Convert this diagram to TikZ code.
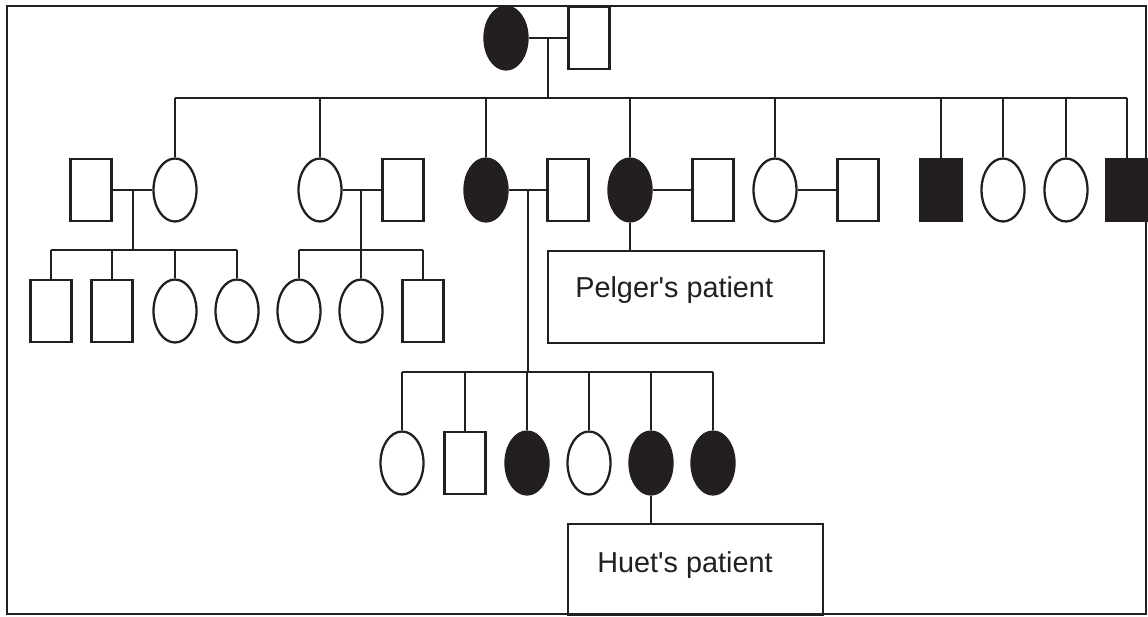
\documentclass[tikz,border=0pt]{standalone}
\usepackage{fontspec}
\setmainfont{Liberation Sans}
\usetikzlibrary{shapes.geometric,calc}
\definecolor{pedink}{RGB}{35,31,32}

\begin{document}
\begin{tikzpicture}[x=0.02cm, y=-0.02cm,
  fem/.style={draw=pedink, ellipse, line width=1.3pt, inner sep=0pt, minimum width=0.86cm, minimum height=1.26cm},
  femaff/.style={fem, fill=pedink},
  male/.style={draw=pedink, rectangle, line width=1.3pt, inner sep=0pt, minimum width=0.82cm, minimum height=1.24cm},
  maleaff/.style={male, fill=pedink},
  patbox/.style={draw=pedink, rectangle, line width=1.3pt, inner sep=0pt, anchor=north west},
  pline/.style={draw=pedink, line width=1.3pt},
  lbl/.style={anchor=base west, inner sep=0pt, font=\fontsize{16.4}{18}\selectfont, text=pedink}]
\useasboundingbox (0,0) rectangle (1148,616);

% Generation I
\node[femaff] (f0) at (506,38) {};
\node[male] (m0) at (589,38) {};
\draw[pline] (f0.east) -- (m0.west);
\coordinate (u0) at ($(f0.east)!.5!(m0.west)$);
\coordinate (s0) at (u0 |- 0,98);
\draw[pline] (u0) -- (s0);

% Generation II
\node[male] (m1) at (91,190) {};
\node[fem] (f1) at (175,190) {};
\node[fem] (f2) at (320,190) {};
\node[male] (m2) at (403,190) {};
\node[femaff] (f3) at (486,190) {};
\node[male] (m3) at (568,190) {};
\node[femaff] (f4) at (630,190) {};
\node[male] (m4) at (713,190) {};
\node[fem] (f5) at (775,190) {};
\node[male] (m5) at (858,190) {};
\node[maleaff] (m6) at (941,190) {};
\node[fem] (f6) at (1003,190) {};
\node[fem] (f7) at (1066,190) {};
\node[maleaff] (m7) at (1127,190) {};

% sibship of generation II
\draw[pline] (f1.north |- s0) -- (m7.north |- s0);
\foreach \k in {f1,f2,f3,f4,f5,m6,f6,f7,m7}
  \draw[pline] (\k.north) -- (\k.north |- s0);

% marriages
\draw[pline] (m1.east) -- (f1.west);
\draw[pline] (f2.east) -- (m2.west);
\draw[pline] (f3.east) -- (m3.west);
\draw[pline] (f4.east) -- (m4.west);
\draw[pline] (f5.east) -- (m5.west);
\coordinate (u1) at (133,190);
\coordinate (u2) at (361,190);
\coordinate (u3) at (528,190);
\coordinate (s1) at (u1 |- 0,250);
\coordinate (s2) at (u2 |- 0,250);
\coordinate (s3) at (u3 |- 0,372);
\draw[pline] (u1) -- (s1);
\draw[pline] (u2) -- (s2);
\draw[pline] (u3) -- (s3);

% Generation III, first two families
\node[male] (c1) at (51,311) {};
\node[male] (c2) at (112,311) {};
\node[fem] (c3) at (175,311) {};
\node[fem] (c4) at (237,311) {};
\node[fem] (c5) at (299,311) {};
\node[fem] (c6) at (361,311) {};
\node[male] (c7) at (423,311) {};
\draw[pline] (c1.north |- s1) -- (c4.north |- s1);
\draw[pline] (c5.north |- s2) -- (c7.north |- s2);
\foreach \k in {c1,c2,c3,c4}
  \draw[pline] (\k.north) -- (\k.north |- s1);
\foreach \k in {c5,c6,c7}
  \draw[pline] (\k.north) -- (\k.north |- s2);

% Pelger's patient
\node[patbox, minimum width=5.52cm, minimum height=1.84cm] (pelger) at (547,250) {};
\node[lbl] (pelgertxt) at (575,297) {Pelger\textquotesingle s patient};
\draw[pline] (f4.south) -- (f4.south |- pelger.north);

% Generation III, third family
\node[fem] (d1) at (402,463) {};
\node[male] (d2) at (465,463) {};
\node[femaff] (d3) at (527,463) {};
\node[fem] (d4) at (589,463) {};
\node[femaff] (d5) at (651,463) {};
\node[femaff] (d6) at (713,463) {};
\draw[pline] (d1.north |- s3) -- (d6.north |- s3);
\foreach \k in {d1,d2,d3,d4,d5,d6}
  \draw[pline] (\k.north) -- (\k.north |- s3);

% Huet's patient
\node[patbox, minimum width=5.1cm, minimum height=1.82cm] (huet) at (567,523) {};
\node[lbl] (huettxt) at (597,572) {Huet\textquotesingle s patient};
\draw[pline] (d5.south) -- (d5.south |- huet.north);

% frame
\draw[draw=pedink, line width=1.5pt] (7,6) rectangle (1146,614);
\end{tikzpicture}
\end{document}
